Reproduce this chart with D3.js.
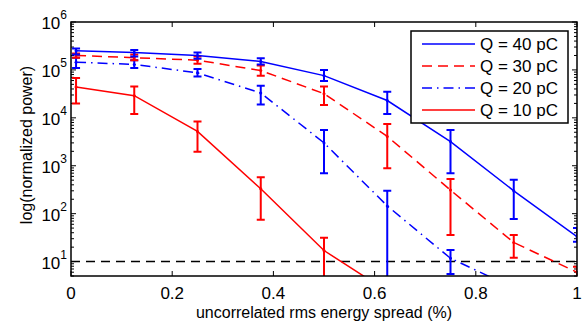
<!DOCTYPE html>
<html>
<head>
<meta charset="utf-8">
<script src="https://cdn.jsdelivr.net/npm/d3@7"></script>
<style>
  body { margin: 0; background: #fff; }
  svg { display: block; font-family: "Liberation Sans", Arial, sans-serif; }
</style>
</head>
<body>
<svg id="chart" width="582" height="327"></svg>
<script>
// energy spread (%) at each simulation point
const spread = [0.01, 0.125, 0.25, 0.375, 0.5, 0.625, 0.75, 0.875, 1.0];

// Q = 40 pC
const q40 = [2.5e5, 2.3e5, 2.0e5, 1.5e5, 7.6e4, 2.3e4, 3.2e3, 300, 33];
const q40Lo = [2.1e5, 1.9e5, 1.7e5, 1.3e5, 5.9e4, 1.2e4, 700, 77, 26];
const q40Hi = [2.8e5, 2.6e5, 2.3e5, 1.75e5, 1.0e5, 3.5e4, 5.6e3, 510, 50];

// Q = 30 pC
const q30 = [2.0e5, 1.8e5, 1.6e5, 9.7e4, 3.2e4, 4.1e3, 310, 25, 6];
const q30Lo = [1.8e5, 1.6e5, 1.35e5, 7.6e4, 1.85e4, 890, 36, 12, 3];
const q30Hi = [2.2e5, 2.1e5, 1.9e5, 1.23e5, 4.5e4, 7.4e3, 530, 36, 7.8];

// Q = 20 pC
const q20 = [1.45e5, 1.3e5, 8.7e4, 3.3e4, 3.0e3, 145, 11.7, 2.8, 0.7];
const q20Lo = [1.1e5, 1.1e5, 7.3e4, 1.9e4, 700, 1, 5.5, 1.5, 0.4];
const q20Hi = [1.8e5, 1.6e5, 1.05e5, 4.7e4, 5.6e3, 300, 17.4, 4, 1];

// Q = 10 pC
const q10 = [4.4e4, 2.9e4, 5.2e3, 330, 17, 2.4, 0.3, 0.04, 0.005];
const q10Lo = [2.0e4, 1.2e4, 1.95e3, 75, 1, 1, 0.1, 0.01, 0.001];
const q10Hi = [6.8e4, 4.5e4, 8.4e3, 575, 31.5, 4, 0.5, 0.06, 0.008];

const threshold = 10;
const xTicks = [0, 0.2, 0.4, 0.6, 0.8, 1];
const yDecades = [1, 2, 3, 4, 5, 6];

const series = [
    {label: "Q = 40 pC", color: "#0000ff", dash: null, y: q40, lo: q40Lo, hi: q40Hi},
    {label: "Q = 30 pC", color: "#ff0000", dash: "10,6", y: q30, lo: q30Lo, hi: q30Hi},
    {label: "Q = 20 pC", color: "#0000ff", dash: "10,5,1.5,5", y: q20, lo: q20Lo, hi: q20Hi},
    {label: "Q = 10 pC", color: "#ff0000", dash: null, y: q10, lo: q10Lo, hi: q10Hi}
];

const width = 582, height = 327;
const margin = {top: 22, right: 5, bottom: 51, left: 71};

const svg = d3.select("#chart");

const x = d3.scaleLinear()
    .domain([0, 1])
    .range([margin.left, width - margin.right]);

const y = d3.scaleLog()
    .domain([5, 1e6])
    .range([height - margin.bottom, margin.top]);

svg.append("defs").append("clipPath")
    .attr("id", "plotClip")
    .append("rect")
    .attr("x", margin.left)
    .attr("y", margin.top)
    .attr("width", width - margin.left - margin.right)
    .attr("height", height - margin.top - margin.bottom);

// ticks (inward, on all sides)
const minorY = [];
for (let e = 0; e <= 5; e++) {
    for (let m = 2; m <= 9; m++) {
        const v = m * Math.pow(10, e);
        if (v >= 5 && v <= 1e6) minorY.push(v);
    }
}

const tickG = svg.append("g").attr("stroke", "#000").attr("stroke-width", 1);

tickG.selectAll(".yminor")
    .data(minorY)
    .join("path")
    .attr("d", d => `M${margin.left},${y(d)}h3M${width - margin.right},${y(d)}h-3`);

tickG.selectAll(".ymajor")
    .data(yDecades)
    .join("path")
    .attr("d", d => `M${margin.left},${y(Math.pow(10, d))}h5M${width - margin.right},${y(Math.pow(10, d))}h-5`);

tickG.selectAll(".xmajor")
    .data(xTicks)
    .join("path")
    .attr("d", d => `M${x(d)},${height - margin.bottom}v-5M${x(d)},${margin.top}v5`);

// y tick labels 10^n
const yLab = svg.append("g")
    .selectAll("text")
    .data(yDecades)
    .join("text")
    .attr("x", margin.left - 4)
    .attr("y", d => y(Math.pow(10, d)) + 7)
    .attr("text-anchor", "end")
    .attr("font-size", 17)
    .attr("fill", "#000");
yLab.append("tspan").text("10");
yLab.append("tspan")
    .attr("font-size", 12)
    .attr("dy", -10)
    .text(d => d);

// x tick labels
svg.append("g")
    .selectAll("text")
    .data(xTicks)
    .join("text")
    .attr("x", d => x(d))
    .attr("y", height - margin.bottom + 23)
    .attr("text-anchor", "middle")
    .attr("font-size", 17)
    .attr("fill", "#000")
    .text(d => d3.format("")(d));

// axis titles
svg.append("text")
    .attr("x", (margin.left + width - margin.right) / 2)
    .attr("y", 318)
    .attr("text-anchor", "middle")
    .attr("font-size", 16)
    .text("uncorrelated rms energy spread (%)");

svg.append("text")
    .attr("transform", "translate(32,145) rotate(-90)")
    .attr("text-anchor", "middle")
    .attr("font-size", 16)
    .text("log(normalized power)");

// plot content
const plot = svg.append("g").attr("clip-path", "url(#plotClip)");

plot.append("line")
    .attr("x1", margin.left)
    .attr("x2", width - margin.right)
    .attr("y1", y(threshold))
    .attr("y2", y(threshold))
    .attr("stroke", "#000")
    .attr("stroke-width", 1.5)
    .attr("stroke-dasharray", "9,6");

const line = d3.line()
    .x(d => x(d.x))
    .y(d => y(d.v));

const capHalf = 4;

series.slice().reverse().forEach(s => {
    const pts = spread.map((sx, i) => ({x: sx, v: s.y[i], lo: s.lo[i], hi: s.hi[i]}));
    const g = plot.append("g");

    g.append("path")
        .datum(pts)
        .attr("fill", "none")
        .attr("stroke", s.color)
        .attr("stroke-width", 1.5)
        .attr("stroke-dasharray", s.dash)
        .attr("d", line);

    g.selectAll(".err")
        .data(pts)
        .join("path")
        .attr("fill", "none")
        .attr("stroke", s.color)
        .attr("stroke-width", 2)
        .attr("d", d => `M${x(d.x)},${y(d.lo)}V${y(d.hi)}`
            + `M${x(d.x) - capHalf},${y(d.lo)}h${2 * capHalf}`
            + `M${x(d.x) - capHalf},${y(d.hi)}h${2 * capHalf}`);

    g.selectAll("circle")
        .data(pts)
        .join("circle")
        .attr("cx", d => x(d.x))
        .attr("cy", d => y(d.v))
        .attr("r", 1.5)
        .attr("fill", s.color);
});

// frame
svg.append("rect")
    .attr("x", margin.left)
    .attr("y", margin.top)
    .attr("width", width - margin.left - margin.right)
    .attr("height", height - margin.top - margin.bottom)
    .attr("fill", "none")
    .attr("stroke", "#000")
    .attr("stroke-width", 1.5);

// legend
const legend = svg.append("g");
legend.append("rect")
    .attr("x", 411)
    .attr("y", 31)
    .attr("width", 157)
    .attr("height", 92)
    .attr("fill", "#fff")
    .attr("stroke", "#000")
    .attr("stroke-width", 1.5);

const rows = legend.selectAll(".row")
    .data(series)
    .join("g")
    .attr("transform", (d, i) => `translate(0,${44 + i * 22})`);

rows.append("line")
    .attr("x1", 422)
    .attr("x2", 475)
    .attr("stroke", d => d.color)
    .attr("stroke-width", 1.5)
    .attr("stroke-dasharray", d => d.dash);

rows.append("text")
    .attr("x", 480)
    .attr("y", 6)
    .attr("font-size", 17)
    .text(d => d.label);
</script>
</body>
</html>
